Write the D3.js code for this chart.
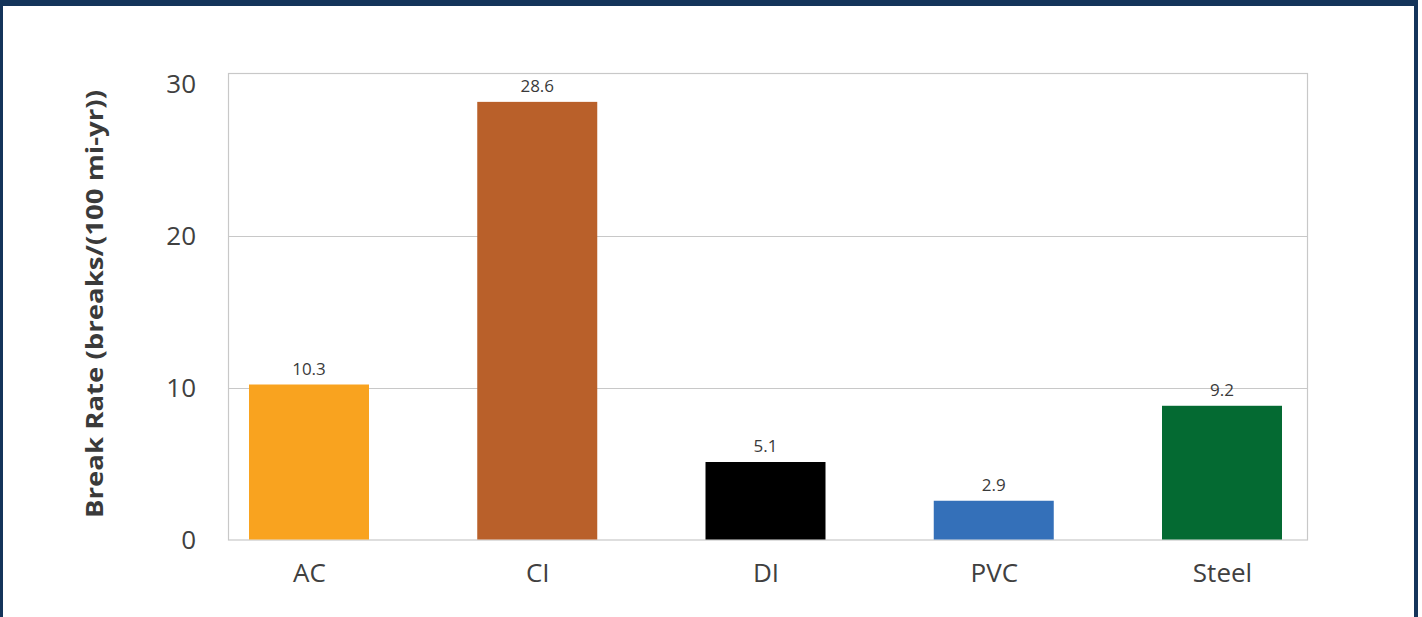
<!DOCTYPE html>
<html>
<head>
<meta charset="utf-8">
<script src="https://cdn.jsdelivr.net/npm/d3@7"></script>
<style>
  html, body { margin: 0; padding: 0; background: #fff; }
  text { font-family: "Open Sans", Lato, sans-serif; }
</style>
</head>
<body>
<div id="chart"></div>
<script>
// pipe material categories
var materials = ["AC", "CI", "DI", "PVC", "Steel"];
// bar heights as drawn
var barValues = [10.2, 28.8, 5.1, 2.55, 8.8];
// printed data labels
var labelValues = ["10.3", "28.6", "5.1", "2.9", "9.2"];
var barColors = ["#f9a31f", "#b9602a", "#000000", "#3470b9", "#046a32"];
var yTicks = [0, 10, 20, 30];

var W = 1422, H = 617;

var svg = d3.select("#chart").append("svg")
    .attr("width", W)
    .attr("height", H);

// navy frame
svg.append("rect").attr("x", 0).attr("y", 0).attr("width", 1418).attr("height", 6).attr("fill", "#14345a");
svg.append("rect").attr("x", 0).attr("y", 0).attr("width", 3).attr("height", H).attr("fill", "#14345a");
svg.append("rect").attr("x", 1414).attr("y", 0).attr("width", 4).attr("height", H).attr("fill", "#14345a");

var plot = { left: 228, right: 1307, top: 73, bottom: 539.5 };

var y = d3.scaleLinear()
    .domain([0, 30.7])
    .range([plot.bottom, plot.top]);

var x = d3.scalePoint()
    .domain(materials)
    .range([309, 1222]);

var barW = 120;

// gridlines
svg.append("g")
    .selectAll("line")
    .data(yTicks.filter(function(d) { return d > 0 && d < 30; }))
    .enter().append("line")
    .attr("x1", plot.left).attr("x2", plot.right)
    .attr("y1", function(d) { return Math.round(y(d)) + 0.5; })
    .attr("y2", function(d) { return Math.round(y(d)) + 0.5; })
    .attr("stroke", "#c8c8c8")
    .attr("stroke-width", 1);

// plot box
svg.append("rect")
    .attr("x", plot.left + 0.5).attr("y", plot.top + 0.5)
    .attr("width", plot.right - plot.left).attr("height", plot.bottom - plot.top)
    .attr("fill", "none")
    .attr("stroke", "#c8c8c8")
    .attr("stroke-width", 1.2);

// bars
svg.append("g")
    .selectAll("rect")
    .data(materials)
    .enter().append("rect")
    .attr("x", function(d) { return x(d) - barW / 2; })
    .attr("y", function(d, i) { return y(barValues[i]); })
    .attr("width", barW)
    .attr("height", function(d, i) { return y(0) - y(barValues[i]); })
    .attr("fill", function(d, i) { return barColors[i]; });

// value labels
svg.append("g")
    .selectAll("text")
    .data(materials)
    .enter().append("text")
    .attr("x", function(d) { return x(d); })
    .attr("y", function(d, i) { return y(barValues[i]) - 10; })
    .attr("text-anchor", "middle")
    .attr("font-size", 17)
    .attr("fill", "#3a3a3a")
    .text(function(d, i) { return labelValues[i]; });

// y axis
var yAxis = svg.append("g")
    .attr("transform", "translate(" + plot.left + ",0)")
    .call(d3.axisLeft(y).tickValues(yTicks).tickSize(0).tickPadding(32));
yAxis.select(".domain").remove();
yAxis.selectAll("text")
    .attr("font-size", 26)
    .attr("fill", "#404040")
    .attr("dy", "0.35em");

// x axis
var xAxis = svg.append("g")
    .attr("transform", "translate(0," + plot.bottom + ")")
    .call(d3.axisBottom(x).tickSize(0).tickPadding(24));
xAxis.select(".domain").remove();
xAxis.selectAll("text")
    .attr("font-size", 26)
    .attr("fill", "#404040");

// y axis title
svg.append("text")
    .attr("transform", "translate(103,304) rotate(-90)")
    .attr("text-anchor", "middle")
    .attr("font-size", 24)
    .attr("font-weight", "bold")
    .attr("fill", "#3a3a3a")
    .attr("textLength", 428)
    .attr("lengthAdjust", "spacingAndGlyphs")
    .text("Break Rate (breaks/(100 mi-yr))");
</script>
</body>
</html>
